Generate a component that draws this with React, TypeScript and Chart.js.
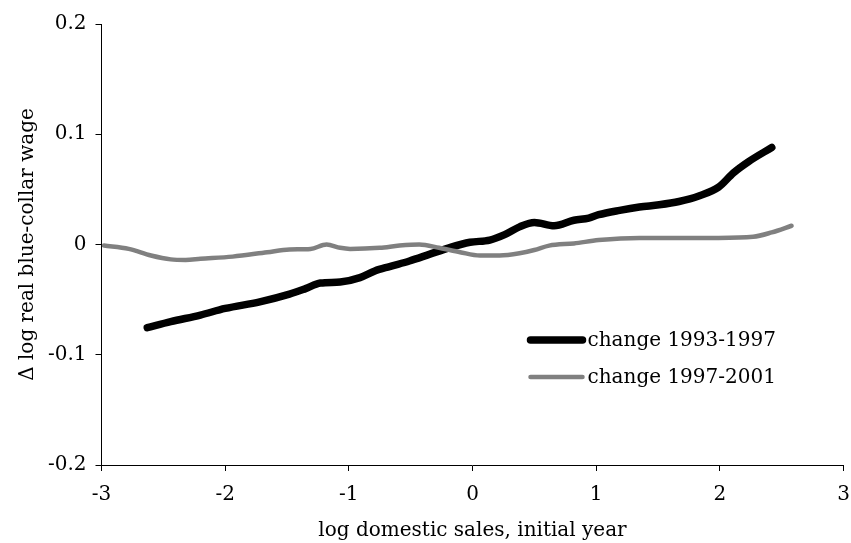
import React, { useEffect, useRef } from "react";
import { Chart, registerables } from "chart.js";

Chart.register(...registerables);

const blackX = [-2.63, -2.44, -2.2, -2.0, -1.72, -1.48, -1.35, -1.23, -1.07, -0.91, -0.79, -0.67, -0.51, -0.35, -0.19, -0.02, 0.14, 0.26, 0.38, 0.5, 0.66, 0.82, 0.94, 1.02, 1.19, 1.35, 1.51, 1.67, 1.83, 1.99, 2.11, 2.23, 2.42];
const blackY = [-0.0755, -0.07, -0.064, -0.058, -0.052, -0.045, -0.04, -0.035, -0.034, -0.03, -0.024, -0.02, -0.015, -0.009, -0.003, 0.002, 0.004, 0.009, 0.016, 0.02, 0.017, 0.022, 0.024, 0.027, 0.031, 0.034, 0.036, 0.039, 0.044, 0.052, 0.065, 0.075, 0.088];

const grayX = [-2.98, -2.78, -2.6, -2.44, -2.32, -2.2, -1.94, -1.66, -1.48, -1.31, -1.18, -1.07, -0.99, -0.75, -0.59, -0.43, -0.27, -0.1, 0.06, 0.22, 0.38, 0.5, 0.62, 0.82, 1.02, 1.35, 1.67, 1.99, 2.27, 2.42, 2.58];
const grayY = [-0.001, -0.004, -0.01, -0.0135, -0.014, -0.013, -0.011, -0.007, -0.0045, -0.004, 0.0, -0.003, -0.004, -0.003, -0.001, 0.0, -0.003, -0.007, -0.01, -0.01, -0.008, -0.005, -0.001, 0.001, 0.004, 0.006, 0.006, 0.006, 0.007, 0.011, 0.017];

const seriesLabels = ["change 1993-1997", "change 1997-2001"];
const xTitle = "log domestic sales, initial year";
const yTitle = "\u0394 log real blue-collar wage";

const FONT = "'DejaVu Serif', 'Liberation Serif', serif";
const FSIZE = 20;

const legendPlugin = {
  id: "customLegend",
  afterDatasetsDraw(chart: any) {
    const ctx = chart.ctx;
    const ca = chart.chartArea;
    const x0 = ca.left + 429;
    const x1 = ca.left + 481;
    const rows = [
      { y: ca.top + 316, color: "#000000", w: 7.5, label: seriesLabels[0] },
      { y: ca.top + 353, color: "#808080", w: 4.5, label: seriesLabels[1] },
    ];
    ctx.save();
    rows.forEach((r) => {
      ctx.beginPath();
      ctx.strokeStyle = r.color;
      ctx.lineWidth = r.w;
      ctx.lineCap = "round";
      ctx.moveTo(x0, r.y);
      ctx.lineTo(x1, r.y);
      ctx.stroke();
      ctx.fillStyle = "#000";
      ctx.font = `${FSIZE}px ${FONT}`;
      ctx.textBaseline = "middle";
      ctx.textAlign = "left";
      ctx.fillText(r.label, x1 + 5, r.y + 1);
    });
    ctx.restore();
  },
};

export default function App() {
  const ref = useRef<HTMLCanvasElement | null>(null);
  useEffect(() => {
    if (!ref.current) return;
    const toPts = (xs: number[], ys: number[]) => xs.map((x, i) => ({ x, y: ys[i] }));
    const chart = new Chart(ref.current, {
      type: "line",
      data: {
        datasets: [
          {
            label: seriesLabels[1],
            data: toPts(grayX, grayY),
            borderColor: "#808080",
            borderWidth: 4.5,
            pointRadius: 0,
            tension: 0.3,
            cubicInterpolationMode: "monotone",
            borderCapStyle: "round",
            borderJoinStyle: "round",
          },
          {
            label: seriesLabels[0],
            data: toPts(blackX, blackY),
            borderColor: "#000000",
            borderWidth: 7.5,
            pointRadius: 0,
            tension: 0.3,
            cubicInterpolationMode: "monotone",
            borderCapStyle: "round",
            borderJoinStyle: "round",
          },
        ],
      },
      options: {
        animation: false,
        responsive: false,
        devicePixelRatio: 1,
        layout: { padding: { top: 24, right: 7.5, left: 0.5, bottom: 0 }, autoPadding: false },
        plugins: { legend: { display: false }, tooltip: { enabled: false } },
        scales: {
          x: {
            type: "linear",
            min: -3,
            max: 3,
            afterFit: (s: any) => { s.height = 78; s.paddingLeft = 0; s.paddingRight = 0; },
            ticks: {
              stepSize: 1,
              color: "#000",
              font: { family: FONT, size: FSIZE },
              padding: 12,
              maxRotation: 0,
              callback: (v: any) => String(Math.round(Number(v))),
            },
            grid: { drawOnChartArea: false, drawTicks: true, tickLength: 6, color: "#000", lineWidth: 1 },
            border: { display: true, color: "#000", width: 1 },
            title: {
              display: true,
              text: xTitle,
              color: "#000",
              font: { family: FONT, size: FSIZE },
              padding: { top: 5, bottom: 0 },
            },
          },
          y: {
            type: "linear",
            min: -0.2,
            max: 0.2,
            afterFit: (s: any) => { s.width = 101; s.paddingTop = 0; s.paddingBottom = 0; },
            ticks: {
              stepSize: 0.1,
              color: "#000",
              font: { family: FONT, size: FSIZE },
              padding: 9,
              callback: (v: any) => (Math.abs(Number(v)) < 1e-9 ? "0" : Number(v).toFixed(1)),
            },
            grid: { drawOnChartArea: false, drawTicks: true, tickLength: 6, color: "#000", lineWidth: 1 },
            border: { display: true, color: "#000", width: 1 },
            title: {
              display: true,
              text: yTitle,
              color: "#000",
              font: { family: FONT, size: FSIZE },
              padding: { top: 15, bottom: 0 },
            },
          },
        },
      },
      plugins: [legendPlugin],
    } as any);
    return () => chart.destroy();
  }, []);
  return (
    <div style={{ position: "absolute", left: 0, top: 0, width: 851, height: 543, background: "#fff" }}>
      <canvas ref={ref} width={851} height={543} style={{ display: "block", width: 851, height: 543 }} />
    </div>
  );
}
